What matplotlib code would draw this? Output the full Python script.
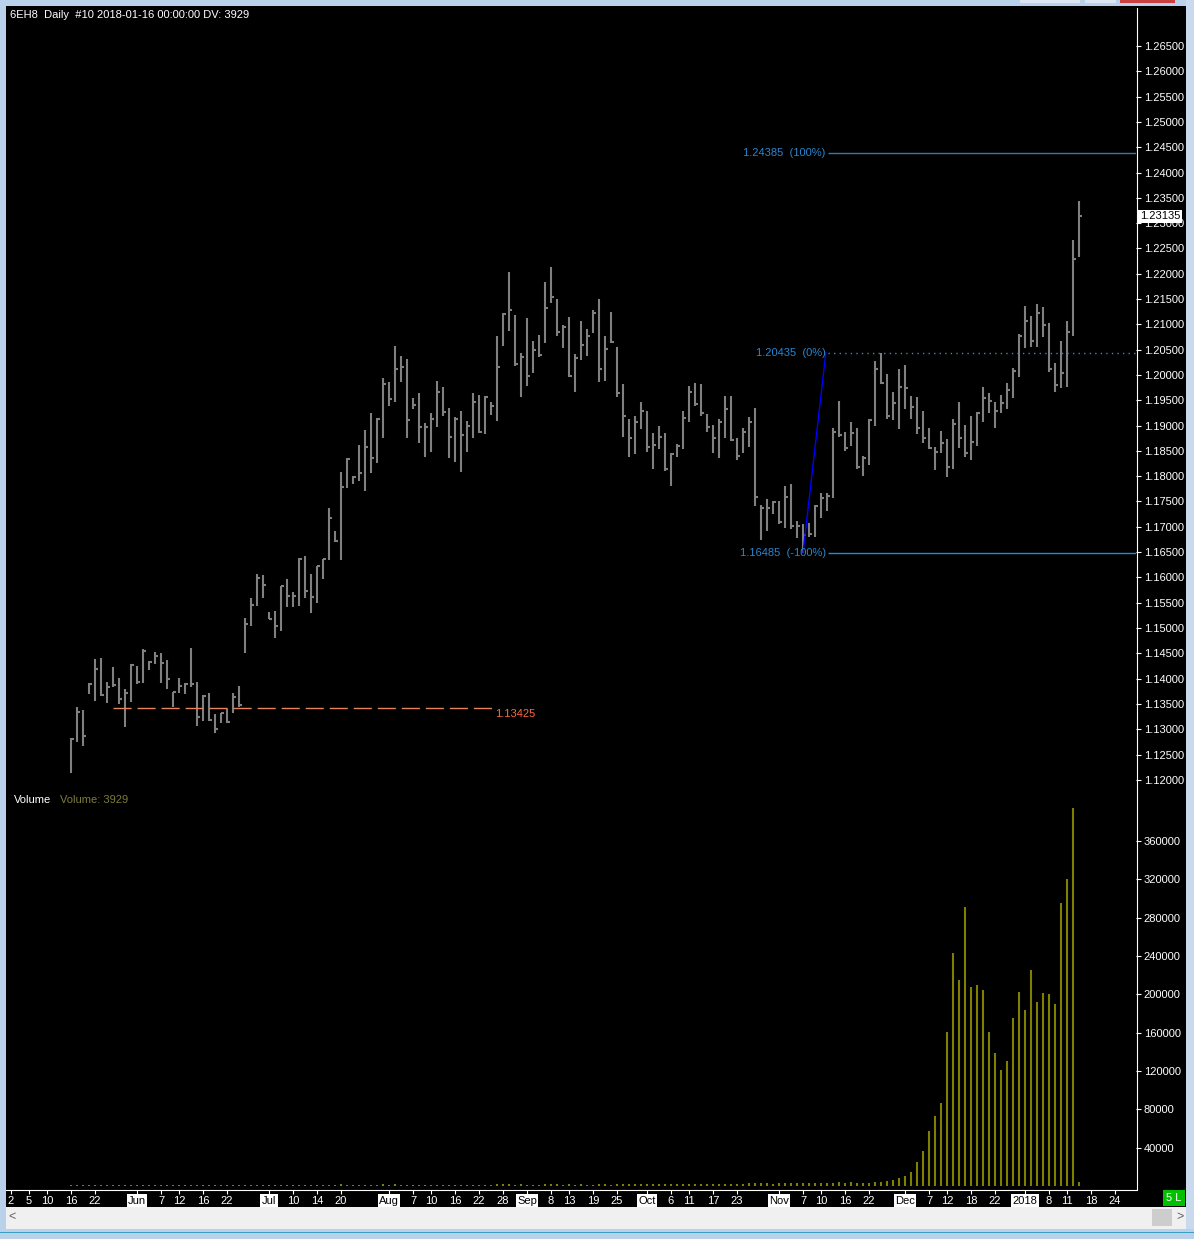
import matplotlib
matplotlib.use('Agg')
import matplotlib.pyplot as plt
import numpy as np
import pandas as pd
from matplotlib.patches import Rectangle
from matplotlib.lines import Line2D

plt.rcParams['font.family'] = ['Liberation Sans', 'DejaVu Sans']

# exchange calendar (no bars on US holidays)
holidays = ['2017-05-29', '2017-07-04', '2017-09-04', '2017-11-23',
            '2017-12-25', '2018-01-01', '2018-01-15']
first_day = '2017-05-16'
last_day = '2018-01-16'

# daily bars 6EH8, 16 May 2017 .. 16 Jan 2018 (high / low / close)
highs = [
    1.1283, 1.1344, 1.1338, 1.1392, 1.1439, 1.1441, 1.1394, 1.1423, 1.1402, 1.1380, 1.1429,   # May
    1.1425, 1.1459, 1.1435, 1.1453, 1.1451, 1.1437, 1.1374, 1.1402, 1.1392, 1.1461, 1.1394,
    1.1368, 1.1372, 1.1330, 1.1332, 1.1340, 1.1372, 1.1386, 1.1520, 1.1559, 1.1607, 1.1605,   # Jun
    1.1532, 1.1534, 1.1583, 1.1597, 1.1571, 1.1638, 1.1642, 1.1607, 1.1623, 1.1636, 1.1737,
    1.1692, 1.1808, 1.1836, 1.1800, 1.1862, 1.1891, 1.1925, 1.1915, 1.1994,                   # Jul
    1.1986, 1.2057, 1.2038, 1.2032, 1.1955, 1.1964, 1.1905, 1.1925, 1.1988, 1.1976, 1.1935,
    1.1917, 1.1929, 1.1909, 1.1965, 1.1961, 1.1959, 1.1947, 1.2076, 1.2123, 1.2204, 1.2119,
    1.2044,                                                                                   # Aug
    1.2113, 1.2068, 1.2079, 1.2184, 1.2214, 1.2151, 1.2099, 1.2115, 1.2042, 1.2107, 1.2091,
    1.2129, 1.2151, 1.2076, 1.2125, 1.2056, 1.1983, 1.1912, 1.1919, 1.1947,                   # Sep
    1.1929, 1.1886, 1.1900, 1.1886, 1.1846, 1.1864, 1.1929, 1.1979, 1.1985, 1.1983, 1.1923,
    1.1902, 1.1912, 1.1959, 1.1959, 1.1876, 1.1896, 1.1917, 1.1935, 1.1744, 1.1755, 1.1751,   # Oct
    1.1751, 1.1781, 1.1785, 1.1712, 1.1706, 1.1708, 1.1744, 1.1767, 1.1767, 1.1896, 1.1949,
    1.1888, 1.1908, 1.1896, 1.1840, 1.1913, 1.2028, 1.2044, 1.2002, 1.1967, 1.2012,           # Nov
    1.2020, 1.1959, 1.1957, 1.1929, 1.1896, 1.1858, 1.1890, 1.1874, 1.1913, 1.1947, 1.1902,
    1.1919, 1.1927, 1.1977, 1.1965, 1.1947, 1.1961, 1.1985, 1.2014, 1.2081,                   # Dec
    1.2137, 1.2117, 1.2141, 1.2135, 1.2103, 1.2024, 1.2068, 1.2107, 1.2267, 1.2344,           # Jan
]
lows = [
    1.1214, 1.1275, 1.1267, 1.1370, 1.1356, 1.1366, 1.1352, 1.1384, 1.1350, 1.1305, 1.1354,
    1.1390, 1.1392, 1.1417, 1.1429, 1.1392, 1.1380, 1.1344, 1.1372, 1.1370, 1.1384, 1.1307,
    1.1317, 1.1317, 1.1293, 1.1313, 1.1313, 1.1332, 1.1344, 1.1451, 1.1504, 1.1544, 1.1559,
    1.1518, 1.1480, 1.1494, 1.1542, 1.1542, 1.1544, 1.1559, 1.1530, 1.1550, 1.1597, 1.1634,
    1.1670, 1.1634, 1.1777, 1.1785, 1.1791, 1.1771, 1.1806, 1.1826, 1.1876,
    1.1939, 1.1947, 1.1986, 1.1876, 1.1933, 1.1866, 1.1838, 1.1848, 1.1897, 1.1919, 1.1836,
    1.1828, 1.1808, 1.1848, 1.1876, 1.1886, 1.1884, 1.1921, 1.1909, 1.2058, 1.2087, 1.2018,
    1.1957,
    1.1979, 1.2004, 1.2036, 1.2064, 1.2143, 1.2076, 1.2054, 1.1995, 1.1967, 1.2030, 1.2038,
    1.2083, 1.1987, 1.1989, 1.2064, 1.1957, 1.1878, 1.1838, 1.1844, 1.1894,
    1.1848, 1.1815, 1.1854, 1.1811, 1.1781, 1.1838, 1.1854, 1.1907, 1.1939, 1.1919, 1.1888,
    1.1846, 1.1836, 1.1876, 1.1870, 1.1831, 1.1846, 1.1858, 1.1742, 1.1674, 1.1692, 1.1726,
    1.1706, 1.1698, 1.1696, 1.1678, 1.16485, 1.1680, 1.1680, 1.1718, 1.1732, 1.1757, 1.1878,
    1.1850, 1.1860, 1.1815, 1.1801, 1.1823, 1.1900, 1.1983, 1.1913, 1.1911, 1.1894,
    1.1933, 1.1913, 1.1884, 1.1866, 1.1854, 1.1813, 1.1846, 1.1799, 1.1815, 1.1856, 1.1838,
    1.1832, 1.1860, 1.1907, 1.1925, 1.1896, 1.1925, 1.1933, 1.1955, 1.1995,
    1.2054, 1.2056, 1.2056, 1.2074, 1.2006, 1.1967, 1.1975, 1.1977, 1.2077, 1.2234,
]
closes = [
    1.1281, 1.1334, 1.1287, 1.1390, 1.1419, 1.1368, 1.1384, 1.1388, 1.1360, 1.1372, 1.1427,
    1.1394, 1.1455, 1.1433, 1.1445, 1.1431, 1.1400, 1.1374, 1.1386, 1.1390, 1.1390, 1.1324,
    1.1366, 1.1318, 1.1301, 1.1332, 1.1314, 1.1364, 1.1348, 1.1508, 1.1546, 1.1599, 1.1585,
    1.1518, 1.1504, 1.1583, 1.1563, 1.1563, 1.1636, 1.1573, 1.1561, 1.1623, 1.1636, 1.1717,
    1.1672, 1.1779, 1.1834, 1.1798, 1.1806, 1.1858, 1.1836, 1.1913, 1.1982,
    1.1953, 1.2012, 1.2016, 1.1911, 1.1941, 1.1897, 1.1897, 1.1913, 1.1966, 1.1927, 1.1878,
    1.1913, 1.1881, 1.1900, 1.1947, 1.1888, 1.1957, 1.1939, 1.2016, 1.2121, 1.2129, 1.2022,
    1.2036,
    1.1998, 1.2050, 1.2040, 1.2133, 1.2155, 1.2085, 1.2095, 1.1997, 1.2034, 1.2060, 1.2076,
    1.2123, 1.2012, 1.2052, 1.2066, 1.1965, 1.1919, 1.1876, 1.1908, 1.1929,
    1.1858, 1.1862, 1.1878, 1.1815, 1.1844, 1.1860, 1.1915, 1.1967, 1.1943, 1.1925, 1.1898,
    1.1876, 1.1908, 1.1933, 1.1872, 1.1840, 1.1888, 1.1908, 1.1759, 1.1738, 1.1738, 1.1749,
    1.1710, 1.1759, 1.1702, 1.1702, 1.1684, 1.1686, 1.1742, 1.1757, 1.1761, 1.1888, 1.1882,
    1.1856, 1.1886, 1.1819, 1.1836, 1.1911, 1.2012, 1.1985, 1.1919, 1.1945, 1.1977,
    1.1975, 1.1937, 1.1896, 1.1876, 1.1856, 1.1848, 1.1866, 1.1819, 1.1904, 1.1876, 1.1846,
    1.1868, 1.1925, 1.1955, 1.1949, 1.1929, 1.1945, 1.1971, 1.2008, 1.2077,
    1.2107, 1.2068, 1.2123, 1.2099, 1.2012, 1.1981, 1.2004, 1.2085, 1.2230, 1.23135,
]
volumes = [
    1500, 900, 1100, 800, 1300, 700, 900, 1000, 600, 1400, 1200,
    800, 900, 1100, 700, 1000, 900, 1300, 800, 1000, 1200, 1500,
    900, 800, 1000, 700, 1100, 900, 1200, 1000, 800, 900, 1100,
    900, 700, 1000, 800, 1200, 1100, 900, 1300, 1000, 800, 1400,
    900, 1600, 1200, 1000, 1100, 1500, 1300, 1200, 1600,
    1400, 1800, 1200, 1500, 1000, 1300, 1100, 1200, 1400, 1000, 1300,
    1500, 1200, 1300, 1100, 1000, 1200, 900, 1800, 1600, 2200, 1500,
    1700,
    1400, 1300, 1200, 2000, 2400, 1600, 1400, 1800, 1500, 1700, 1400,
    1300, 2200, 1600, 1500, 1800, 1900, 1700, 1600, 1800,
    2000, 2100, 1900, 2200, 2000, 1600, 2100, 2300, 2000, 2200, 1900,
    2400, 2200, 2600, 2500, 2300, 2500, 2700, 3200, 3000, 2800, 2600,
    2900, 3100, 3000, 2800, 3300, 3100, 3400, 3200, 3000, 3600, 3800,
    3500, 3700, 3300, 3600, 3000, 4000, 4500, 5000, 6500, 8000,
    10000, 15000, 25000, 37000, 57000, 73000, 87000, 161000, 243000, 215000, 291000,
    208000, 210000, 205000, 161000, 139000, 121000, 131000, 175000, 203000,
    184000, 225000, 192000, 201000, 200000, 190000, 295000, 320000, 395000, 3929,
]

tick_dates = ['2017-05-02', '2017-05-05', '2017-05-10', '2017-05-16', '2017-05-22',
              '2017-06-01', '2017-06-07', '2017-06-12', '2017-06-16', '2017-06-22',
              '2017-07-03', '2017-07-10', '2017-07-14', '2017-07-20',
              '2017-08-01', '2017-08-07', '2017-08-10', '2017-08-16', '2017-08-22', '2017-08-28',
              '2017-09-01', '2017-09-08', '2017-09-13', '2017-09-19', '2017-09-25',
              '2017-10-02', '2017-10-06', '2017-10-11', '2017-10-17', '2017-10-23',
              '2017-11-01', '2017-11-07', '2017-11-10', '2017-11-16', '2017-11-22',
              '2017-12-01', '2017-12-07', '2017-12-12', '2017-12-18', '2017-12-22',
              '2018-01-02', '2018-01-08', '2018-01-11', '2018-01-18', '2018-01-24']
tick_labels = ['2', '5', '10', '16', '22', 'Jun', '7', '12', '16', '22', 'Jul', '10', '14', '20',
               'Aug', '7', '10', '16', '22', '28', 'Sep', '8', '13', '19', '25',
               'Oct', '6', '11', '17', '23', 'Nov', '7', '10', '16', '22',
               'Dec', '7', '12', '18', '22', '2018', '8', '11', '18', '24']
month_labels = ['Jun', 'Jul', 'Aug', 'Sep', 'Oct', 'Nov', 'Dec', '2018']

hline_level = 1.13425
fib_low, fib_zero, fib_high = 1.16485, 1.20435, 1.24385

# bar index on a trading-day axis
cal = pd.bdate_range('2017-04-28', '2018-01-31', freq='C', holidays=holidays)
origin = cal.get_loc(pd.Timestamp(first_day))
bar_idx = np.arange(cal.get_loc(pd.Timestamp(last_day)) - origin + 1)
tick_pos = [cal.get_loc(pd.Timestamp(d)) - origin for d in tick_dates]

W, H = 1194, 1239
fig = plt.figure(figsize=(W / 100, H / 100), dpi=100, facecolor='black')


def fx(px):
    return px / W


def fy(py):
    return 1 - py / H


def rect(x0, y0, x1, y1, color, **kw):
    fig.add_artist(Rectangle((fx(x0), fy(y1)), fx(x1) - fx(x0), fy(y0) - fy(y1),
                             transform=fig.transFigure, facecolor=color, edgecolor='none', **kw))


FS = 8
xl = ((6 - 71) / 6, (1136 - 71) / 6)

# price panel
ax = fig.add_axes([fx(6), fy(790), fx(1136) - fx(6), fy(8) - fy(790)])
ax.set_facecolor('black')
ax.vlines(bar_idx, lows, highs, color='#808080', lw=1.5)
ax.hlines(closes, bar_idx, bar_idx + 0.5, color='#808080', lw=1.5)
ax.set_xlim(*xl)
ax.set_ylim(1.265 - (790 - 46) * 0.0001976, 1.265 + (46 - 8) * 0.0001976)
ax.yaxis.tick_right()
ax.set_yticks(np.arange(1.12, 1.26501, 0.005))
ax.yaxis.set_major_formatter(plt.FormatStrFormatter('%.5f'))
ax.tick_params(axis='y', colors='white', length=3.5, width=0.8, pad=2, labelsize=FS)
ax.set_xticks([])
for s in ax.spines.values():
    s.set_visible(False)

# horizontal level line
ax.hlines(hline_level, 7, 70.3, color='#e8845c', lw=1, linestyles=(0, (13, 4.3)))
ax.text(70.7, hline_level - 0.0003, '1.13425', color='#ff6a3d', fontsize=FS, ha='left', va='top')

# fibonacci tool
nov7 = cal.get_loc(pd.Timestamp('2017-11-07')) - origin
ax.plot([nov7, 125.8], [fib_low, fib_zero], color='#0000ff', lw=1)
ax.hlines(fib_high, 126.2, xl[1], color='#3a78a8', lw=1)
ax.hlines(fib_zero, 126.2, xl[1], color='#4a86aa', lw=1, linestyles=(0, (1, 3)))
ax.hlines(fib_low, 126.2, xl[1], color='#1e8ce0', lw=1)
for lvl, lab in [(fib_high, '1.24385  (100%)'), (fib_zero, '1.20435  (0%)'), (fib_low, '1.16485  (-100%)')]:
    ax.text(125.8, lvl, lab, color='#2a86d0', fontsize=FS, ha='right', va='center')

# last price box
ax.text(1.0035, closes[-1], '%.5f' % closes[-1], transform=ax.get_yaxis_transform(),
        color='black', fontsize=FS, ha='left', va='center',
        bbox=dict(facecolor='white', edgecolor='none', pad=1.2), zorder=5)

# volume panel
axv = fig.add_axes([fx(6), fy(1190), fx(1136) - fx(6), fy(790) - fy(1190)])
axv.set_facecolor('black')
axv.vlines(bar_idx, 0, volumes, color='#808000', lw=1.5)
axv.set_xlim(*xl)
axv.set_ylim(-4 * 1044, (1186 - 790) * 1044)
axv.yaxis.tick_right()
axv.set_yticks(np.arange(40000, 360001, 40000))
axv.tick_params(axis='y', colors='white', length=3.5, width=0.8, pad=2, labelsize=FS)
axv.set_xticks(tick_pos)
axv.set_xticklabels(tick_labels)
axv.tick_params(axis='x', colors='white', length=3, width=0.8, pad=1, labelsize=FS)
for lab in axv.get_xticklabels():
    if lab.get_text() in month_labels:
        lab.set_color('black')
        lab.set_bbox(dict(facecolor='white', edgecolor='none', pad=1))
for k, s in axv.spines.items():
    s.set_visible(k == 'bottom')
axv.spines['bottom'].set_color('white')
axv.spines['bottom'].set_linewidth(0.8)
axv.text(0.007, 0.975, 'Volume', transform=axv.transAxes, color='white', fontsize=FS, va='center')
axv.text(0.048, 0.975, 'Volume: 3929', transform=axv.transAxes, color='#7c7c3a', fontsize=FS, va='center')

# price scale border
fig.add_artist(Line2D([fx(1136.5), fx(1136.5)], [fy(8), fy(1190)], color='white', lw=0.8,
                      transform=fig.transFigure))

fig.text(fx(10), fy(15), '6EH8  Daily  #10 2018-01-16 00:00:00 DV: 3929', color='white',
         fontsize=FS, va='center')

# green status box
rect(1163, 1190, 1185, 1206, '#00c000')
fig.text(fx(1174), fy(1198), '5 L', color='white', fontsize=FS, ha='center', va='center')

# window frame
rect(0, 0, W, 6, '#b9d1ea')
rect(0, 0, 6, H, '#b9d1ea')
rect(1186, 0, W, H, '#c9daee')
rect(6, 1207, 1186, 1229, '#f0f0f0')
rect(1152, 1209, 1172, 1226, '#cdcdcd')
rect(0, 1229, W, H, '#b9d1ea')
rect(0, 1232, W, 1233, '#3aa0c0')
fig.text(fx(12), fy(1217), '<', color='#606060', fontsize=9, ha='center', va='center')
fig.text(fx(1180), fy(1217), '>', color='#606060', fontsize=9, ha='center', va='center')
rect(1020, 0, 1080, 3, '#dce6f2')
rect(1085, 0, 1116, 3, '#dce6f2')
rect(1120, 0, 1175, 3, '#c84040')

fig.savefig('out.png', dpi=100, facecolor='black')
